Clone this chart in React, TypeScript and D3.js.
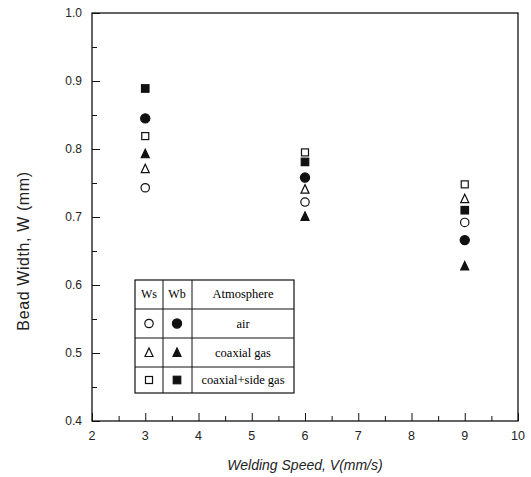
import React, { useRef, useEffect } from 'react';
import * as d3 from 'd3';

const speeds = [3, 6, 9];
const wsAir = [0.743, 0.722, 0.692];
const wsCoaxial = [0.771, 0.741, 0.727];
const wsSide = [0.819, 0.795, 0.748];
const wbAir = [0.845, 0.758, 0.666];
const wbCoaxial = [0.793, 0.701, 0.628];
const wbSide = [0.889, 0.781, 0.71];

const xTicks = [2, 3, 4, 5, 6, 7, 8, 9, 10];
const yTicks = [0.4, 0.5, 0.6, 0.7, 0.8, 0.9, 1.0];
const legendRows = ['air', 'coaxial gas', 'coaxial+side gas'];

const series = [
  { values: wsAir, shape: 'circle', filled: false },
  { values: wsCoaxial, shape: 'triangle', filled: false },
  { values: wsSide, shape: 'square', filled: false },
  { values: wbAir, shape: 'circle', filled: true },
  { values: wbCoaxial, shape: 'triangle', filled: true },
  { values: wbSide, shape: 'square', filled: true },
];

function drawMarker(g: any, cx: number, cy: number, shape: string, filled: boolean) {
  const fill = filled ? '#111' : '#fff';
  if (shape === 'circle') {
    g.append('circle').attr('cx', cx).attr('cy', cy).attr('r', filled ? 4.6 : 4.2)
      .attr('fill', fill).attr('stroke', '#111').attr('stroke-width', 1.2);
  } else if (shape === 'square') {
    const s = filled ? 7.5 : 7;
    g.append('rect').attr('x', cx - s / 2).attr('y', cy - s / 2).attr('width', s).attr('height', s)
      .attr('fill', fill).attr('stroke', '#111').attr('stroke-width', 1.2);
  } else {
    const h = 8, w = 8;
    g.append('path')
      .attr('d', `M${cx},${cy - h / 2 - 0.5}L${cx + w / 2},${cy + h / 2}L${cx - w / 2},${cy + h / 2}Z`)
      .attr('fill', fill).attr('stroke', '#111').attr('stroke-width', 1.2);
  }
}

export default function App() {
  const ref = useRef<SVGSVGElement>(null);

  useEffect(() => {
    const svg = d3.select(ref.current);
    svg.selectAll('*').remove();
    const left = 92, right = 518, top = 13, bottom = 421;

    const x = d3.scaleLinear().domain([2, 10]).range([left, right]);
    const y = d3.scaleLinear().domain([0.4, 1.0]).range([bottom, top]);

    // frame
    svg.append('rect').attr('x', left).attr('y', top).attr('width', right - left).attr('height', bottom - top)
      .attr('fill', 'none').attr('stroke', '#111').attr('stroke-width', 1.3);

    // x axis ticks (inward)
    const xAxis = d3.axisTop(x).tickValues(d3.range(2, 10.01, 0.5))
      .tickSize(0).tickFormat(() => '');
    const gx = svg.append('g').attr('transform', `translate(0,${bottom})`).call(xAxis);
    gx.select('.domain').remove();
    gx.selectAll('.tick line')
      .attr('y2', (d: any) => (Number.isInteger(d) ? -8 : -5))
      .attr('stroke', '#111');
    svg.append('g').selectAll('text').data(xTicks).enter().append('text')
      .attr('x', (d) => x(d)).attr('y', bottom + 19)
      .attr('text-anchor', 'middle').attr('font-family', 'Liberation Sans, Arial, sans-serif')
      .attr('font-size', 12.5).attr('fill', '#222').text((d) => String(d));

    // y axis ticks (inward)
    const yAxis = d3.axisRight(y).tickValues(d3.range(0.4, 1.001, 0.05)).tickSize(0).tickFormat(() => '');
    const gy = svg.append('g').attr('transform', `translate(${left},0)`).call(yAxis);
    gy.select('.domain').remove();
    gy.selectAll('.tick line')
      .attr('x2', (d: any) => (Math.round(d * 100) % 10 === 0 ? 8 : 5))
      .attr('stroke', '#111');
    svg.append('g').selectAll('text').data(yTicks).enter().append('text')
      .attr('x', left - 10).attr('y', (d) => y(d) + 4)
      .attr('text-anchor', 'end').attr('font-family', 'Liberation Sans, Arial, sans-serif')
      .attr('font-size', 12).attr('fill', '#222').text((d) => d.toFixed(1));

    // axis titles
    svg.append('text').attr('x', 305).attr('y', 470).attr('text-anchor', 'middle')
      .attr('font-family', 'Liberation Sans, Arial, sans-serif').attr('font-size', 14)
      .attr('font-style', 'italic').attr('fill', '#222').text('Welding Speed, V(mm/s)');
    svg.append('text').attr('transform', 'translate(29,251) rotate(-90)').attr('text-anchor', 'middle')
      .attr('font-family', 'Liberation Sans, Arial, sans-serif').attr('font-size', 16)
      .attr('letter-spacing', 0.6).attr('fill', '#222').text('Bead Width, W (mm)');

    // points
    const gp = svg.append('g');
    series.forEach((s) => {
      s.values.forEach((v, i) => drawMarker(gp, x(speeds[i]), y(v), s.shape, s.filled));
    });

    // legend table
    const lg = svg.append('g');
    const lx = 135, lr = 294, ly = 280;
    const rowsY = [280, 309, 338, 367, 393];
    const cols = [135, 163, 192, 294];
    lg.append('rect').attr('x', lx).attr('y', ly).attr('width', lr - lx).attr('height', rowsY[4] - ly)
      .attr('fill', '#fff').attr('stroke', '#111').attr('stroke-width', 1.2);
    rowsY.slice(1, 4).forEach((ry) => lg.append('line').attr('x1', lx).attr('x2', lr)
      .attr('y1', ry).attr('y2', ry).attr('stroke', '#111').attr('stroke-width', 1));
    cols.slice(1, 3).forEach((cx) => lg.append('line').attr('x1', cx).attr('x2', cx)
      .attr('y1', ly).attr('y2', rowsY[4]).attr('stroke', '#111').attr('stroke-width', 1));
    const serif = 'Liberation Serif, Times New Roman, serif';
    lg.append('text').attr('x', 149).attr('y', 298).attr('text-anchor', 'middle')
      .attr('font-family', serif).attr('font-size', 12).text('Ws');
    lg.append('text').attr('x', 177).attr('y', 298).attr('text-anchor', 'middle')
      .attr('font-family', serif).attr('font-size', 12).text('Wb');
    lg.append('text').attr('x', 243).attr('y', 298).attr('text-anchor', 'middle')
      .attr('font-family', serif).attr('font-size', 12.5).text('Atmosphere');
    legendRows.forEach((label, i) => {
      const cy = (rowsY[i + 1] + rowsY[i + 2]) / 2;
      drawMarker(lg, 149, cy, series[i].shape, false);
      drawMarker(lg, 177, cy, series[i + 3].shape, true);
      lg.append('text').attr('x', 243).attr('y', cy + 4).attr('text-anchor', 'middle')
        .attr('font-family', serif).attr('font-size', 12.5).text(label);
    });
  }, []);

  return (
    <svg ref={ref} width={531} height={477}
      style={{ position: 'absolute', left: 0, top: 0, background: '#fff' }} />
  );
}
